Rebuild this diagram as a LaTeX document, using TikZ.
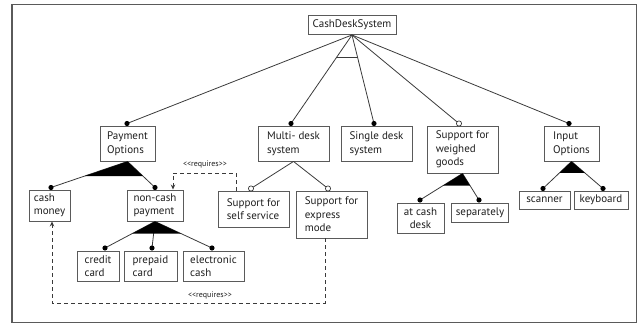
\documentclass[tikz,border=0pt]{standalone}
\usepackage{fontspec}
\setmainfont{PT Sans}
\usetikzlibrary{calc,arrows.meta}
\definecolor{boxc}{HTML}{5A5A5A}
\definecolor{linec}{HTML}{3A3A3A}
\definecolor{txtc}{HTML}{1E1E1E}
\begin{document}
\begin{tikzpicture}[x=1pt,y=-1pt,
  box/.style={draw=boxc, line width=0.9pt, align=left, inner sep=0pt, font=\fontsize{11}{13.5}\selectfont, text=txtc},
  edge/.style={draw=linec, line width=0.8pt},
  wedge/.style={fill=black},
  req/.style={draw=linec, line width=0.8pt, dash pattern=on 4pt off 3pt, -{Stealth[length=5pt,width=4.5pt]}},
  reqlabel/.style={font=\fontsize{8}{9.5}\selectfont, text=txtc, inner sep=0pt},
  frame/.style={draw=boxc, line width=1.3pt}
]
\useasboundingbox (0,0) rectangle (638,324);
\draw[frame] (12,4.5) rectangle (636.5,322.5);

% boxes
\node[box, align=center, minimum width=88pt, minimum height=19pt] (root) at (352,25) {CashDeskSystem};
\node[box, minimum width=55pt, minimum height=35pt] (pay) at (127.5,143.5) {Payment\\Options};
\node[box, minimum width=71pt, minimum height=35pt] (multi) at (293.5,143.5) {Multi- desk\\system};
\node[box, minimum width=71pt, minimum height=35pt] (single) at (376.5,143.5) {Single desk\\system};
\node[box, minimum width=71pt, minimum height=47pt] (weigh) at (462.5,149.5) {Support for\\weighed\\goods};
\node[box, minimum width=55pt, minimum height=35pt] (input) at (571.5,143.5) {Input\\Options};
\node[box, minimum width=41pt, minimum height=31pt] (cash) at (49.5,205.5) {cash\\money};
\node[box, minimum width=56pt, minimum height=31pt] (noncash) at (155,205.5) {non-cash\\payment};
\node[box, minimum width=71pt, minimum height=36pt] (self) at (253.5,209) {Support for\\self service};
\node[box, minimum width=71pt, minimum height=47pt] (express) at (331.5,214.5) {Support for\\express\\mode};
\node[box, minimum width=42pt, minimum height=30pt] (credit) at (98,266) {credit\\card};
\node[box, minimum width=53pt, minimum height=30pt] (prepaid) at (150.5,266) {prepaid\\card};
\node[box, minimum width=61pt, minimum height=30pt] (electronic) at (213.5,266) {electronic\\cash};
\node[box, align=center, minimum width=47pt, minimum height=30pt] (atcash) at (420.5,218) {at cash\\desk};
\node[box, minimum width=57pt, minimum height=19pt] (separately) at (480,212.5) {separately};
\node[box, minimum width=51pt, minimum height=18pt] (scanner) at (544.5,200) {scanner};
\node[box, minimum width=54pt, minimum height=18pt] (keyboard) at (601,200) {keyboard};

% attachment points
\coordinate (dpay) at (127,123.5);
\coordinate (dmulti) at (291,123.5);
\coordinate (dsingle) at (374,123.5);
\coordinate (dweigh) at (459,123.5);
\coordinate (dinput) at (569,123.5);
\coordinate (dcash) at (51,187.5);
\coordinate (dnon) at (155,187.5);
\coordinate (dself) at (251,188.5);
\coordinate (dexp) at (328,188.5);
\coordinate (dcredit) at (105,248);
\coordinate (dprepaid) at (152,248);
\coordinate (delec) at (212,248);
\coordinate (datcash) at (420,200);
\coordinate (dsep) at (479,200);
\coordinate (dscan) at (543,188.5);
\coordinate (dkey) at (603,188.5);

% edges
\foreach \d in {dpay,dmulti,dsingle,dweigh,dinput}
  \draw[edge] (root.south) -- (\d);
\draw[edge] ($(root.south)!0.25!(dmulti)$) -- ($(root.south)!0.25!(dsingle)$);

\foreach \d in {dcash,dnon} \draw[edge] (pay.south) -- (\d);
\fill[wedge] (pay.south) -- ($(pay.south)!0.56!(dcash)$) -- ($(pay.south)!0.56!(dnon)$) -- cycle;

\foreach \d in {dself,dexp} \draw[edge] (multi.south) -- (\d);

\foreach \d in {dcredit,dprepaid,delec} \draw[edge] (noncash.south) -- (\d);
\fill[wedge] (noncash.south) -- ($(noncash.south)!0.46!(dcredit)$) -- ($(noncash.south)!0.46!(delec)$) -- cycle;

\foreach \d in {datcash,dsep} \draw[edge] (weigh.south) -- (\d);
\fill[wedge] (weigh.south) -- ($(weigh.south)!0.46!(datcash)$) -- ($(weigh.south)!0.46!(dsep)$) -- cycle;

\foreach \d in {dscan,dkey} \draw[edge] (input.south) -- (\d);
\fill[wedge] (input.south) -- ($(input.south)!0.42!(dscan)$) -- ($(input.south)!0.42!(dkey)$) -- cycle;

% dots
\foreach \d in {dpay,dmulti,dsingle,dinput,dcash,dnon,dcredit,dprepaid,delec,datcash,dsep,dscan,dkey}
  \fill[black] (\d) circle (2.6pt);
\foreach \d in {dweigh,dself,dexp}
  \filldraw[draw=linec, fill=white, line width=0.7pt] (\d) circle (2.6pt);

% requires
\coordinate (reqA) at (205,173);
\coordinate (reqB) at (200,303);
\draw[req] ([xshift=-17.5pt]self.north) |- (reqA) -| ([xshift=18pt]noncash.north);
\draw[req] ([xshift=-6.5pt]express.south) |- (reqB) -| ([xshift=2.5pt]cash.south);
\node[reqlabel] (lab1) at (205,164.5) {<{}<requires>{}>};
\node[reqlabel] (lab2) at (210,295) {<{}<requires>{}>};
\end{tikzpicture}
\end{document}
